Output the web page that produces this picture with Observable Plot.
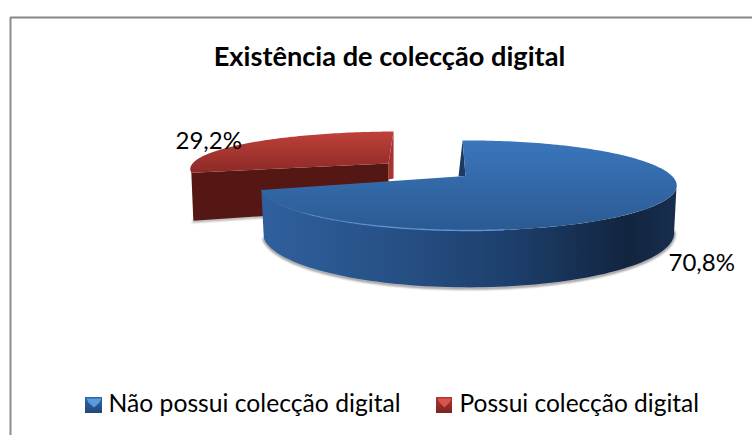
<!DOCTYPE html>
<html>
<head>
<meta charset="utf-8">
<script src="https://cdn.jsdelivr.net/npm/d3@7"></script>
<script src="https://cdn.jsdelivr.net/npm/@observablehq/plot@0.6"></script>
<style>
html,body{margin:0;padding:0;background:#fff}
svg{display:block}
.soft{filter:blur(1px)}
</style>
</head>
<body>
<div id="chart"></div>
<script>
const chartTitle = "Existência de colecção digital";
const categories = ["Não possui colecção digital", "Possui colecção digital"];
const shares = [70.8, 29.2];
const shareLabels = ["70,8%", "29,2%"];

const W = 752, H = 435;
const FONT = "Lato, 'Open Sans', sans-serif";
const K = 0.2;
const rad = d => d * Math.PI / 180;
const arcs = d3.pie().sort(null).startAngle(rad(-2)).endAngle(rad(358))(shares);

// perspective projection of a tilted disc
const rim = (view, a, drop = 0) => {
  const u = Math.sin(a), v = -Math.cos(a), w = 1 - K * v;
  const shrink = drop ? 0.988 : 1;
  return {x: view.cx + shrink * view.rx * u / w, y: view.cy + view.ry * v / w + drop / w};
};
const sweep = (view, a0, a1, drop = 0, n = 90) =>
  d3.range(n + 1).map(i => rim(view, a0 + (a1 - a0) * i / n, drop));

const blueView = {cx: 468, cy: 176, rx: 204, ry: 43.2};
const redView = {cx: 399, cy: 161, rx: 205, ry: 36};
const blueApex = {x: 465, y: 175.5};
const redApex = {x: 388, y: 163};
const depth = 45.5;

const blue = arcs[0], red = arcs[1];
const blueFace = [...sweep(blueView, blue.startAngle, blue.endAngle, 0, 180), blueApex];
const blueWall = [
  ...sweep(blueView, rad(100), blue.endAngle),
  ...sweep(blueView, rad(100), blue.endAngle, depth).reverse()
];
const blueEdge = sweep(blueView, rad(100), blue.endAngle, depth + 0.8);
const blueGlow = sweep(blueView, rad(172), blue.endAngle);
const blueNotch = [rim(blueView, blue.startAngle), blueApex, {x: 458, y: 176}];

const redFace = [...sweep(redView, red.startAngle, red.endAngle), redApex];
const redLeft = rim(redView, red.startAngle);
const redTop = rim(redView, red.endAngle);
const redWall = [redLeft, redApex, {x: redApex.x, y: redApex.y + 44}, {x: redLeft.x + 2, y: redLeft.y + 48}];
const redSide = [redApex, redTop, {x: redTop.x, y: redApex.y + 15}, {x: redApex.x, y: redApex.y + 16}];
const redEdge = [{x: redLeft.x + 2, y: redLeft.y + 48.8}, {x: redApex.x, y: redApex.y + 44.8}];

const defs = () => {
  const d = d3.create("svg:defs");
  d.html(`
  <linearGradient id="blueTop" x1="0" y1="0" x2="0" y2="1">
    <stop offset="0" stop-color="#3a76bc"/><stop offset="1" stop-color="#2b5a92"/>
  </linearGradient>
  <linearGradient id="blueSide" x1="0" y1="0" x2="1" y2="0">
    <stop offset="0" stop-color="#2f609d"/><stop offset="0.3" stop-color="#275187"/>
    <stop offset="0.6" stop-color="#1d3f6c"/><stop offset="0.88" stop-color="#12253f"/>
    <stop offset="1" stop-color="#182e4e"/>
  </linearGradient>
  <linearGradient id="glow" x1="0" y1="0" x2="1" y2="0">
    <stop offset="0" stop-color="#4f8ad0" stop-opacity="0.15"/><stop offset="0.6" stop-color="#5a93d8"/>
    <stop offset="1" stop-color="#5a93d8"/>
  </linearGradient>
  <linearGradient id="redTop" x1="0" y1="0" x2="0" y2="1">
    <stop offset="0" stop-color="#c0403a"/><stop offset="1" stop-color="#8c2a26"/>
  </linearGradient>
  <linearGradient id="iconBlue" x1="0" y1="0" x2="0" y2="1">
    <stop offset="0" stop-color="#2f66a8"/><stop offset="1" stop-color="#22487a"/>
  </linearGradient>
  <linearGradient id="iconRed" x1="0" y1="0" x2="0" y2="1">
    <stop offset="0" stop-color="#b03530"/><stop offset="1" stop-color="#7a2420"/>
  </linearGradient>`);
  return d.node();
};

const poly = (points, fill) => Plot.line(points, {x: "x", y: "y", fill, stroke: "none"});
const stroke = (points, color, opts = {}) =>
  Plot.line(points, {x: "x", y: "y", stroke: color, fill: "none", ...opts});

// legend swatches
const swatchBoxes = categories.map((c, i) => ({
  name: c,
  x1: i === 0 ? 85 : 436, x2: i === 0 ? 102 : 452, y1: 397, y2: 413
}));
const swatchTri = b => [
  {x: b.x1 + 1, y: b.y1 + 1}, {x: b.x2 - 1, y: b.y1 + 1},
  {x: b.x2 - 3, y: b.y1 + 5}, {x: (b.x1 + b.x2) / 2, y: (b.y1 + b.y2) / 2 + 2},
  {x: b.x1 + 3, y: b.y1 + 5}
];

const text = (t, x, y, size, anchor, weight = "normal") =>
  Plot.text([t], {x: () => x, y: () => y, text: d => d, fontSize: size, fontWeight: weight,
    textAnchor: anchor, fill: "#000", fontFamily: FONT});

const plot = Plot.plot({
  width: W, height: H, margin: 0,
  style: {background: "#fff", fontFamily: FONT},
  x: {axis: null, domain: [0, W], range: [0, W]},
  y: {axis: null, domain: [0, H], range: [0, H]},
  marks: [
    defs,
    Plot.ruleY([17], {x1: 10, x2: W, stroke: "#868686", strokeWidth: 2}),
    Plot.ruleX([10], {y1: 17, y2: H, stroke: "#8c8c8c", strokeWidth: 2}),

    stroke(redEdge, "#555", {strokeWidth: 2, strokeOpacity: 0.6, className: "soft"}),
    poly(redSide, "#a8322e"),
    poly(redWall, "#541713"),
    poly(redFace, "url(#redTop)"),

    stroke(blueEdge, "#444", {strokeWidth: 2.5, strokeOpacity: 0.6, className: "soft"}),
    poly(blueNotch, "#1a3a63"),
    poly(blueWall, "url(#blueSide)"),
    poly(blueFace, "url(#blueTop)"),
    stroke(blueGlow, "url(#glow)", {strokeWidth: 1.4}),

    text(chartTitle, 389, 57, 27.2, "middle", "bold"),
    text(shareLabels[1], 175, 141, 24, "start"),
    text(shareLabels[0], 668, 263, 24, "start"),

    Plot.rect(swatchBoxes.slice(0, 1), {x1: "x1", x2: "x2", y1: "y1", y2: "y2", fill: "url(#iconBlue)"}),
    Plot.rect(swatchBoxes.slice(1), {x1: "x1", x2: "x2", y1: "y1", y2: "y2", fill: "url(#iconRed)"}),
    poly(swatchTri(swatchBoxes[0]), "#5a9be0"),
    poly(swatchTri(swatchBoxes[1]), "#d9534f"),
    text(categories[0], 108, 404, 24.7, "start"),
    text(categories[1], 459, 404, 24.5, "start")
  ]
});
document.getElementById("chart").append(plot);
</script>
</body>
</html>
